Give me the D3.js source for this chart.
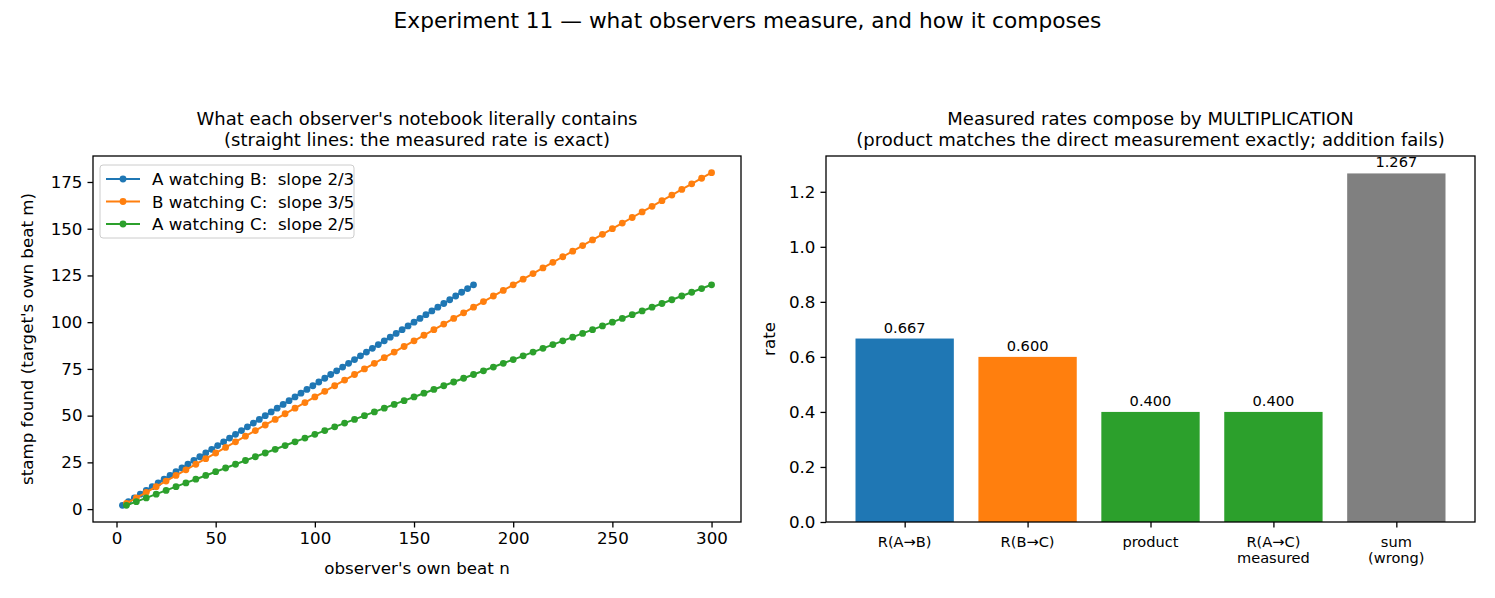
<!DOCTYPE html>
<html><head><meta charset="utf-8">
<script src="https://cdn.jsdelivr.net/npm/d3@7"></script>
<style>
body{margin:0;background:#fff;}
text{font-family:"DejaVu Sans",sans-serif;fill:#000;white-space:pre;}
</style></head><body>
<svg id="c" width="1495" height="598"></svg>
<script>
// ---- data ----
const beatsAB  = [3,6,9,12,15,18,21,24,27,30,33,36,39,42,45,48,51,54,57,60,63,66,69,72,75,78,81,84,87,90,93,96,99,102,105,108,111,114,117,120,123,126,129,132,135,138,141,144,147,150,153,156,159,162,165,168,171,174,177,180];
const stampsAB = [2,4,6,8,10,12,14,16,18,20,22,24,26,28,30,32,34,36,38,40,42,44,46,48,50,52,54,56,58,60,62,64,66,68,70,72,74,76,78,80,82,84,86,88,90,92,94,96,98,100,102,104,106,108,110,112,114,116,118,120];
const beatsBC  = [5,10,15,20,25,30,35,40,45,50,55,60,65,70,75,80,85,90,95,100,105,110,115,120,125,130,135,140,145,150,155,160,165,170,175,180,185,190,195,200,205,210,215,220,225,230,235,240,245,250,255,260,265,270,275,280,285,290,295,300];
const stampsBC = [3,6,9,12,15,18,21,24,27,30,33,36,39,42,45,48,51,54,57,60,63,66,69,72,75,78,81,84,87,90,93,96,99,102,105,108,111,114,117,120,123,126,129,132,135,138,141,144,147,150,153,156,159,162,165,168,171,174,177,180];
const beatsAC  = [5,10,15,20,25,30,35,40,45,50,55,60,65,70,75,80,85,90,95,100,105,110,115,120,125,130,135,140,145,150,155,160,165,170,175,180,185,190,195,200,205,210,215,220,225,230,235,240,245,250,255,260,265,270,275,280,285,290,295,300];
const stampsAC = [2,4,6,8,10,12,14,16,18,20,22,24,26,28,30,32,34,36,38,40,42,44,46,48,50,52,54,56,58,60,62,64,66,68,70,72,74,76,78,80,82,84,86,88,90,92,94,96,98,100,102,104,106,108,110,112,114,116,118,120];
const seriesNames = ["A watching B:  slope 2/3","B watching C:  slope 3/5","A watching C:  slope 2/5"];
const seriesColors = ["#1f77b4","#ff7f0e","#2ca02c"];
const leftXTicks = [0,50,100,150,200,250,300];
const leftYTicks = [0,25,50,75,100,125,150,175];

const barLabels = [["R(A\u2192B)"],["R(B\u2192C)"],["product"],["R(A\u2192C)","measured"],["sum","(wrong)"]];
const barValues = [0.6667, 0.6, 0.4, 0.4, 1.2667];
const barColors = ["#1f77b4","#ff7f0e","#2ca02c","#2ca02c","#808080"];
const rightYTicks = [0.0,0.2,0.4,0.6,0.8,1.0,1.2];

const FS_TICK = "16.7px", FS_SUB = "18px", FS_SMALL = "14.6px";
const svg = d3.select("#c");
svg.append("text").attr("x",747.5).attr("y",28).attr("text-anchor","middle").style("font-size","21.7px")
  .text("Experiment 11 \u2014 what observers measure, and how it composes");

// ---- left panel ----
const L = {x0:93,x1:741,y0:156,y1:522};
const series = [[beatsAB,stampsAB],[beatsBC,stampsBC],[beatsAC,stampsAC]];
const allN = [].concat(beatsAB,beatsBC,beatsAC), allM=[].concat(stampsAB,stampsBC,stampsAC);
const nMin=d3.min(allN), nMax=d3.max(allN), mMin=d3.min(allM), mMax=d3.max(allM);
const xL = d3.scaleLinear().domain([nMin-(nMax-nMin)*0.05, nMax+(nMax-nMin)*0.05]).range([L.x0,L.x1]);
const yL = d3.scaleLinear().domain([mMin-(mMax-mMin)*0.05, mMax+(mMax-mMin)*0.05]).range([L.y1,L.y0]);
const gL = svg.append("g");
const line = d3.line().x(d=>xL(d[0])).y(d=>yL(d[1]));
series.forEach((s,i)=>{
  const pts = s[0].map((n,j)=>[n,s[1][j]]);
  gL.append("path").datum(pts).attr("d",line).attr("fill","none").attr("stroke",seriesColors[i]).attr("stroke-width",2);
  gL.selectAll(null).data(pts).enter().append("circle").attr("cx",d=>xL(d[0])).attr("cy",d=>yL(d[1])).attr("r",3.4).attr("fill",seriesColors[i]);
});
function styleAxis(g){g.selectAll("path,line").attr("stroke","#000").attr("stroke-width",1.3);g.selectAll("text").style("font-size",FS_TICK).attr("fill","#000").style("font-family","DejaVu Sans");}
gL.append("g").attr("transform",`translate(0,${L.y1})`).call(d3.axisBottom(xL).tickValues(leftXTicks).tickSize(5.5).tickPadding(5).tickSizeOuter(0)).call(styleAxis).select(".domain").remove();
gL.append("g").attr("transform",`translate(${L.x0},0)`).call(d3.axisLeft(yL).tickValues(leftYTicks).tickSize(5.5).tickPadding(5).tickSizeOuter(0)).call(styleAxis).select(".domain").remove();
gL.append("rect").attr("x",L.x0).attr("y",L.y0).attr("width",L.x1-L.x0).attr("height",L.y1-L.y0).attr("fill","none").attr("stroke","#000").attr("stroke-width",1.3);
gL.append("text").attr("x",(L.x0+L.x1)/2).attr("y",574).attr("text-anchor","middle").style("font-size",FS_TICK).text("observer's own beat n");
gL.append("text").attr("transform",`translate(33,${(L.y0+L.y1)/2}) rotate(-90)`).attr("text-anchor","middle").style("font-size",FS_TICK).text("stamp found (target's own beat m)");
gL.append("text").attr("x",(L.x0+L.x1)/2).attr("y",125).attr("text-anchor","middle").style("font-size",FS_SUB).text("What each observer's notebook literally contains");
gL.append("text").attr("x",(L.x0+L.x1)/2).attr("y",146).attr("text-anchor","middle").style("font-size",FS_SUB).text("(straight lines: the measured rate is exact)");
// legend
const lg = gL.append("g").attr("transform",`translate(${L.x0+7},${L.y0+9})`);
lg.append("rect").attr("width",254).attr("height",73).attr("rx",3).attr("fill","#fff").attr("fill-opacity",0.8).attr("stroke","#ccc");
seriesNames.forEach((nm,i)=>{
  const yy = 14+i*22.5;
  lg.append("line").attr("x1",6).attr("x2",40).attr("y1",yy).attr("y2",yy).attr("stroke",seriesColors[i]).attr("stroke-width",2);
  lg.append("circle").attr("cx",23).attr("cy",yy).attr("r",3.4).attr("fill",seriesColors[i]);
  lg.append("text").attr("x",52).attr("y",yy+6).style("font-size",FS_TICK).text(nm);
});

// ---- right panel ----
const R = {x0:826,x1:1475,y0:156,y1:522};
const xR = d3.scaleLinear().domain([-0.4-(4.8*0.05), 4.4+(4.8*0.05)]).range([R.x0,R.x1]);
const yR = d3.scaleLinear().domain([0, d3.max(barValues)*1.05]).range([R.y1,R.y0]);
const gR = svg.append("g");
barValues.forEach((v,i)=>{
  gR.append("rect").attr("x",xR(i-0.4)).attr("width",xR(0.8)-xR(0)).attr("y",yR(v)).attr("height",yR(0)-yR(v)).attr("fill",barColors[i]);
  gR.append("text").attr("x",xR(i)).attr("y",yR(v)-6).attr("text-anchor","middle").style("font-size",FS_SMALL).text(v.toFixed(3));
});
gR.append("g").attr("transform",`translate(${R.x0},0)`).call(d3.axisLeft(yR).tickValues(rightYTicks).tickFormat(d3.format(".1f")).tickSize(5.5).tickPadding(5).tickSizeOuter(0)).call(styleAxis).select(".domain").remove();
const xa = gR.append("g").attr("transform",`translate(0,${R.y1})`).call(d3.axisBottom(xR).tickValues([0,1,2,3,4]).tickFormat("").tickSize(5.5).tickSizeOuter(0)).call(styleAxis);
xa.select(".domain").remove();
barLabels.forEach((lines,i)=>{
  lines.forEach((t,k)=>{
    gR.append("text").attr("x",xR(i)).attr("y",R.y1+25+k*15.5).attr("text-anchor","middle").style("font-size",FS_SMALL).text(t);
  });
});
gR.append("rect").attr("x",R.x0).attr("y",R.y0).attr("width",R.x1-R.x0).attr("height",R.y1-R.y0).attr("fill","none").attr("stroke","#000").attr("stroke-width",1.3);
gR.append("text").attr("transform",`translate(775,${(R.y0+R.y1)/2}) rotate(-90)`).attr("text-anchor","middle").style("font-size",FS_TICK).text("rate");
gR.append("text").attr("x",(R.x0+R.x1)/2).attr("y",125).attr("text-anchor","middle").style("font-size",FS_SUB).text("Measured rates compose by MULTIPLICATION");
gR.append("text").attr("x",(R.x0+R.x1)/2).attr("y",146).attr("text-anchor","middle").style("font-size",FS_SUB).text("(product matches the direct measurement exactly; addition fails)");
</script></body></html>
